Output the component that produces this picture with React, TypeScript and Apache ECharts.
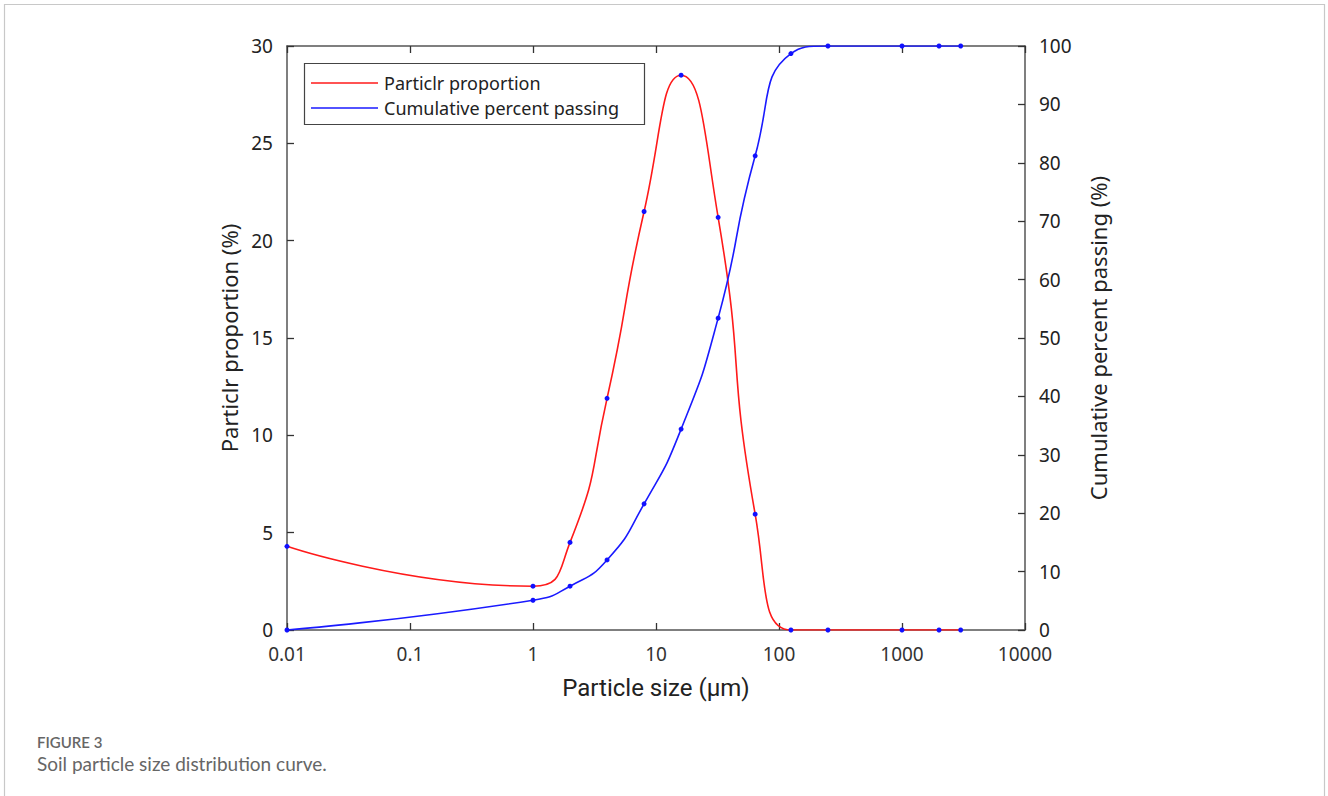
import React, { useEffect, useRef } from "react";
import * as echarts from "echarts";

const particleSizes = [0.01, 1, 2, 4, 8, 16, 32, 64, 125, 250, 1000, 2000, 3000];
const particleProportion = [4.3, 2.25, 4.5, 11.9, 21.5, 28.5, 21.2, 5.95, 0, 0, 0, 0, 0];
const cumulativePassing = [0, 5.1, 7.5, 12, 21.6, 34.4, 53.4, 81.2, 98.7, 100, 100, 100, 100];
const xTickLabels = ["0.01", "0.1", "1", "10", "100", "1000", "10000"];
const seriesNames = ["Particlr proportion", "Cumulative percent passing"];

const tickFont = "'Noto Sans', 'Open Sans', sans-serif";

export default function App() {
  const ref = useRef<HTMLDivElement>(null);
  useEffect(() => {
    if (!ref.current) return;
    const chart = echarts.init(ref.current, undefined, { renderer: "svg" });
    const axisLine = { show: true, onZero: false, lineStyle: { color: "#555", width: 1.5 } };
    const tick = () => ({ show: true, inside: true, length: 7, lineStyle: { color: "#333", width: 1.3 } });
    const xLabel = (v: number) => {
      const idx = Math.round(Math.log10(v)) + 2;
      return xTickLabels[idx] ?? "";
    };
    const option: any = {
      animation: false,
      backgroundColor: "#fff",
      grid: { left: 287, right: 303, top: 46, bottom: 166, containLabel: false, outerBoundsMode: "none" },
      xAxis: [
        {
          type: "log",
          logBase: 10,
          min: 0.01,
          max: 10000,
          position: "bottom",
          name: "Particle size (μm)",
          nameLocation: "middle",
          nameGap: 46,
          nameTextStyle: { fontFamily: "Roboto, sans-serif", fontSize: 24, color: "#222" },
          axisLine,
          axisTick: tick(),
          minorTick: { show: false },
          splitLine: { show: false },
          axisLabel: { formatter: xLabel, fontFamily: tickFont, fontSize: 19, color: "#333", margin: 14 },
        },
        {
          type: "log",
          logBase: 10,
          min: 0.01,
          max: 10000,
          position: "top",
          axisLine,
          axisTick: tick(),
          splitLine: { show: false },
          axisLabel: { show: false },
        },
      ],
      yAxis: [
        {
          type: "value",
          min: 0,
          max: 30,
          interval: 5,
          position: "left",
          name: "Particlr proportion (%)",
          nameLocation: "middle",
          nameGap: 47,
          nameTextStyle: { fontFamily: tickFont, fontSize: 22, color: "#222" },
          axisLine,
          axisTick: tick(),
          splitLine: { show: false },
          axisLabel: { fontFamily: tickFont, fontSize: 19, color: "#222", margin: 14 },
        },
        {
          type: "value",
          min: 0,
          max: 100,
          interval: 10,
          position: "right",
          name: "Cumulative percent passing (%)",
          nameLocation: "middle",
          nameGap: 62,
          nameRotate: 90,
          nameTextStyle: { fontFamily: tickFont, fontSize: 22, color: "#222" },
          axisLine,
          axisTick: tick(),
          splitLine: { show: false },
          axisLabel: { fontFamily: tickFont, fontSize: 19, color: "#222", margin: 14 },
        },
      ],
      series: [
        {
          name: seriesNames[0],
          type: "line",
          xAxisIndex: 0,
          yAxisIndex: 0,
          smooth: 0.55,
          data: particleSizes.map((x, i) => [x, particleProportion[i]]),
          lineStyle: { color: "#ff1a1a", width: 1.6 },
          symbol: "circle",
          symbolSize: 5,
          showSymbol: true,
          itemStyle: { color: "#1010ff" },
          z: 3,
        },
        {
          name: seriesNames[1],
          type: "line",
          xAxisIndex: 0,
          yAxisIndex: 1,
          smooth: 0.55,
          data: particleSizes.map((x, i) => [x, cumulativePassing[i]]),
          lineStyle: { color: "#1a1aff", width: 1.6 },
          symbol: "circle",
          symbolSize: 5,
          showSymbol: true,
          itemStyle: { color: "#1010ff" },
          z: 4,
        },
      ],
      graphic: [
        {
          type: "rect",
          shape: { x: 4.5, y: 4.5, width: 1320, height: 800 },
          style: { fill: "none", stroke: "#c8c8c8", lineWidth: 1.2 },
          silent: true,
          z: -10,
        },
        {
          type: "rect",
          shape: { x: 304.5, y: 63.5, width: 340, height: 61 },
          style: { fill: "#fff", stroke: "#444", lineWidth: 1.2 },
          z: 10,
        },
        {
          type: "line",
          shape: { x1: 311, y1: 83, x2: 378, y2: 83 },
          style: { stroke: "#ff1a1a", lineWidth: 1.6 },
          z: 11,
        },
        {
          type: "line",
          shape: { x1: 311, y1: 108, x2: 378, y2: 108 },
          style: { stroke: "#1a1aff", lineWidth: 1.6 },
          z: 11,
        },
        {
          type: "text",
          x: 384,
          y: 83,
          style: { text: seriesNames[0], fontFamily: tickFont, fontSize: 18, fill: "#222", textVerticalAlign: "middle" },
          z: 11,
        },
        {
          type: "text",
          x: 384,
          y: 108,
          style: { text: seriesNames[1], fontFamily: tickFont, fontSize: 18, fill: "#222", textVerticalAlign: "middle" },
          z: 11,
        },
        {
          type: "text",
          x: 37,
          y: 742,
          style: { text: "FIGURE 3", fontFamily: "Lato, sans-serif", fontSize: 15, fontWeight: 600, fill: "#666", textVerticalAlign: "middle" },
        },
        {
          type: "text",
          x: 37,
          y: 763,
          style: { text: "Soil particle size distribution curve.", fontFamily: "Lato, sans-serif", fontSize: 19, fill: "#666", textVerticalAlign: "middle" },
        },
      ],
    };
    chart.setOption(option);
    return () => chart.dispose();
  }, []);
  return <div ref={ref} style={{ position: "fixed", left: 0, top: 0, width: 1328, height: 796 }} />;
}
